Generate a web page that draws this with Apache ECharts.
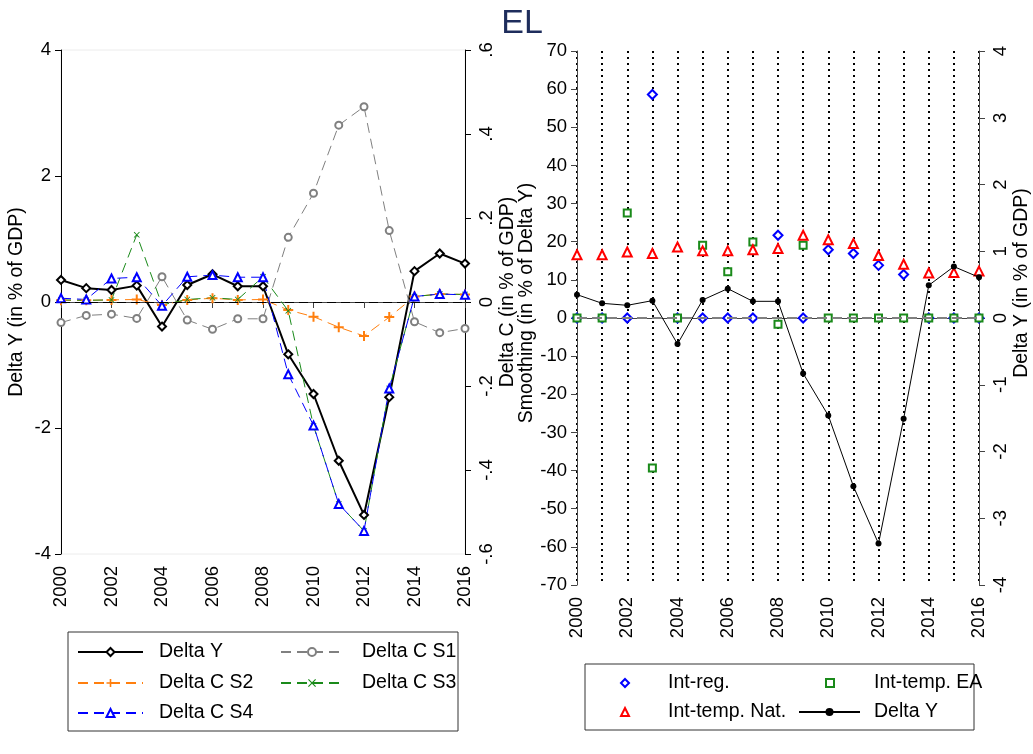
<!DOCTYPE html>
<html>
<head>
<meta charset="utf-8">
<script src="https://cdn.jsdelivr.net/npm/echarts@6/dist/echarts.min.js"></script>
<style>
html,body{margin:0;padding:0;background:#fff;}
#chart{width:1033px;height:754px;}
</style>
</head>
<body>
<div id="chart"></div>
<script>
// ---------- data ----------
const years = [2000,2001,2002,2003,2004,2005,2006,2007,2008,2009,2010,2011,2012,2013,2014,2015,2016];
const deltaY = [0.35,0.22,0.19,0.26,-0.39,0.27,0.44,0.25,0.25,-0.83,-1.46,-2.52,-3.38,-1.51,0.49,0.77,0.61];
const deltaCS1 = [-0.049,-0.032,-0.029,-0.039,0.060,-0.043,-0.065,-0.040,-0.040,0.154,0.259,0.421,0.465,0.170,-0.047,-0.073,-0.063];
const deltaCS2 = [0.004,0.004,0.005,0.006,-0.007,0.005,0.009,0.005,0.006,-0.019,-0.035,-0.060,-0.081,-0.036,0.013,0.019,0.018];
const deltaCS3 = [0.005,0.004,0.005,0.160,-0.007,0.006,0.010,0.006,0.060,-0.021,-0.295,-0.481,-0.545,-0.206,0.013,0.019,0.018];
const deltaCS4 = [0.009,0.006,0.056,0.059,-0.009,0.060,0.064,0.059,0.059,-0.172,-0.294,-0.481,-0.545,-0.206,0.013,0.019,0.017];
const intReg = [0,0,0,58.6,0,0,0,0,21.7,0,17.9,16.9,13.8,11.4,0,0,0];
const intTempEA = [0,0,27.5,-39.3,0,19.1,12.1,19.9,-1.65,19.1,0,0,0,0,0,0,0];
const intTempNat = [16.6,16.6,17.3,16.9,18.6,17.6,17.6,17.9,18.2,21.7,20.5,19.5,16.4,14.1,11.8,11.9,12.3];

const pair = arr => years.map((y,i)=>[y, arr[i]]);
const FONT = 'Liberation Sans';
const TICK = 18.5, TITLE = 19.5;

const plusPath = 'path://M4,0 H6 V4 H10 V6 H6 V10 H4 V6 H0 V4 H4 Z';
const xPath = 'path://M1,0 L5,4 L9,0 L10,1 L6,5 L10,9 L9,10 L5,6 L1,10 L0,9 L4,5 L0,1 Z';

function stataFmt(v){
  if (Math.abs(v) < 1e-9) return '0';
  const s = Math.abs(v).toFixed(1).replace(/^0/,'');
  return (v<0?'-':'') + s;
}

const axisTextStyle = {color:'#000', fontFamily:FONT, fontSize:TICK};
const nameStyle = (shiftUp) => ({color:'#000', fontFamily:FONT, fontSize:TITLE, padding:[0,0,0,2*shiftUp]});

function legendItem(name, left, cy, w, h, pad){
  return {
    data:[name], left:left, top:cy-10, orient:'horizontal', padding:0,
    itemWidth:w, itemHeight:h, selectedMode:false,
    textStyle:{color:'#000', fontFamily:FONT, fontSize:TITLE, lineHeight:20, padding:[0,0,0,pad]}
  };
}

const option = {
  backgroundColor:'#fff',
  animation:false,
  title:{text:'EL', left:517, top:2, textAlign:'center',
    textStyle:{color:'#1e2d5c', fontFamily:FONT, fontSize:34, fontWeight:'normal'}},
  grid:[
    {left:61, top:50, width:404, height:504, show:true, borderColor:'#ececec', borderWidth:1},
    {left:577, top:51, width:404, height:534}
  ],
  xAxis:[
    {gridIndex:0, type:'value', min:2000, max:2016, interval:2,
      axisLine:{lineStyle:{color:'#444', width:1}},
      axisTick:{show:true, length:6, lineStyle:{color:'#444'}},
      axisLabel:{rotate:90, margin:12, ...axisTextStyle, formatter: v=>String(v)},
      splitLine:{show:false}},
    {gridIndex:1, type:'value', min:2000, max:2016, interval:2,
      axisLine:{lineStyle:{color:'#444', width:1}},
      axisTick:{show:true, length:6, lineStyle:{color:'#444'}},
      axisLabel:{rotate:90, margin:12, ...axisTextStyle, formatter: v=>String(v)},
      splitLine:{show:true, lineStyle:{color:'#000', type:[2,4], width:2}},
      minorTick:{show:false, splitNumber:2},
      minorSplitLine:{show:true, lineStyle:{color:'#000', type:[2,4], width:2}}}
  ],
  yAxis:[
    {gridIndex:0, type:'value', position:'left', min:-4, max:4, interval:2,
      name:'Delta Y (in % of GDP)', nameLocation:'middle', nameRotate:90, nameGap:34, nameTextStyle:nameStyle(0),
      axisLine:{show:true, lineStyle:{color:'#000'}},
      axisTick:{show:true, length:6, lineStyle:{color:'#000'}},
      axisLabel:{margin:10, ...axisTextStyle},
      splitLine:{show:false}},
    {gridIndex:0, type:'value', position:'right', min:-0.6, max:0.6, interval:0.2,
      name:'Delta C (in % of GDP)', nameLocation:'middle', nameRotate:90, nameGap:33, nameTextStyle:nameStyle(10),
      axisLine:{show:true, lineStyle:{color:'#000'}},
      axisTick:{show:true, length:6, lineStyle:{color:'#000'}},
      axisLabel:{margin:12, rotate:90, ...axisTextStyle, formatter: stataFmt},
      splitLine:{show:false}},
    {gridIndex:1, type:'value', position:'left', min:-70, max:70, interval:10,
      name:'Smoothing (in % of Delta Y)', nameLocation:'middle', nameRotate:90, nameGap:40, nameTextStyle:nameStyle(15),
      axisLine:{show:true, lineStyle:{color:'#444'}},
      axisTick:{show:true, length:6, lineStyle:{color:'#444'}},
      axisLabel:{margin:10, ...axisTextStyle},
      splitLine:{show:false}},
    {gridIndex:1, type:'value', position:'right', min:-4, max:4, interval:1,
      name:'Delta Y (in % of GDP)', nameLocation:'middle', nameRotate:90, nameGap:33, nameTextStyle:nameStyle(35),
      axisLine:{show:true, lineStyle:{color:'#444'}},
      axisTick:{show:true, length:6, lineStyle:{color:'#444'}},
      axisLabel:{margin:12, rotate:90, ...axisTextStyle},
      splitLine:{show:false}}
  ],
  legend:[
    legendItem('Delta Y', 77, 652, 65, 10, 11),
    legendItem('Delta C S1', 280, 652, 62, 10, 14),
    legendItem('Delta C S2', 77, 683, 65, 10, 11),
    legendItem('Delta C S3', 280, 683, 62, 10, 14),
    legendItem('Delta C S4', 77, 713, 65, 10, 11),
    legendItem('Int-reg.', 620, 683, 8, 8, 34),
    legendItem('Int-temp. EA', 825, 683, 8, 8, 35),
    legendItem('Int-temp. Nat.', 620, 712, 8, 8, 34),
    legendItem('Delta Y ', 798, 712, 61, 10, 9)
  ],
  graphic:[
    {type:'rect', shape:{x:68, y:632, width:390, height:99}, style:{fill:'none', stroke:'#333', lineWidth:1}, silent:true},
    {type:'rect', shape:{x:585, y:664, width:389, height:66}, style:{fill:'none', stroke:'#333', lineWidth:1}, silent:true}
  ],
  series:[
    {name:'Delta Y', type:'line', xAxisIndex:0, yAxisIndex:0, data:pair(deltaY),
      symbol:'emptyDiamond', symbolSize:8,
      lineStyle:{color:'#000', width:2}, itemStyle:{color:'#000', borderWidth:1.5},
      markLine:{silent:true, symbol:'none', label:{show:false},
        lineStyle:{color:'#000', type:[9,5], width:1}, data:[{yAxis:0}]}},
    {name:'Delta C S1', type:'line', xAxisIndex:0, yAxisIndex:1, data:pair(deltaCS1),
      symbol:'emptyCircle', symbolSize:7,
      lineStyle:{color:'#808080', width:1, type:[10,6]}, itemStyle:{color:'#808080', borderWidth:1.5}},
    {name:'Delta C S2', type:'line', xAxisIndex:0, yAxisIndex:1, data:pair(deltaCS2),
      symbol:plusPath, symbolSize:10,
      lineStyle:{color:'#ff7f0e', width:1, type:[10,6]}, itemStyle:{color:'#ff7f0e'}},
    {name:'Delta C S3', type:'line', xAxisIndex:0, yAxisIndex:1, data:pair(deltaCS3),
      symbol:xPath, symbolSize:6,
      lineStyle:{color:'#1a8a1a', width:1, type:[10,6]}, itemStyle:{color:'#1a8a1a'}},
    {name:'Delta C S4', type:'line', xAxisIndex:0, yAxisIndex:1, data:pair(deltaCS4),
      symbol:'emptyTriangle', symbolSize:8,
      lineStyle:{color:'#0000ff', width:1, type:[10,6]}, itemStyle:{color:'#0000ff', borderWidth:1.5}},

    {name:'Int-reg.', type:'scatter', xAxisIndex:1, yAxisIndex:2, data:pair(intReg),
      symbol:'emptyDiamond', symbolSize:9, itemStyle:{color:'#0000ff', borderWidth:1.5, opacity:1},
      markLine:{silent:true, symbol:'none', label:{show:false},
        lineStyle:{color:'#808080', type:[10,5], width:2}, data:[{yAxis:0}]}},
    {name:'Int-temp. EA', type:'scatter', xAxisIndex:1, yAxisIndex:2, data:pair(intTempEA),
      symbol:'emptyRect', symbolSize:7, itemStyle:{color:'#1a8a1a', borderWidth:1.5, opacity:1}},
    {name:'Int-temp. Nat.', type:'scatter', xAxisIndex:1, yAxisIndex:2, data:pair(intTempNat),
      symbol:'emptyTriangle', symbolSize:9, itemStyle:{color:'#ff0000', borderWidth:1.5, opacity:1}},
    {name:'Delta Y ', type:'line', xAxisIndex:1, yAxisIndex:3, data:pair(deltaY),
      symbol:'circle', symbolSize:6,
      lineStyle:{color:'#000', width:1}, itemStyle:{color:'#000'}}
  ]
};

const chart = echarts.init(document.getElementById('chart'), null, {renderer:'canvas'});
chart.setOption(option);
</script>
</body>
</html>
